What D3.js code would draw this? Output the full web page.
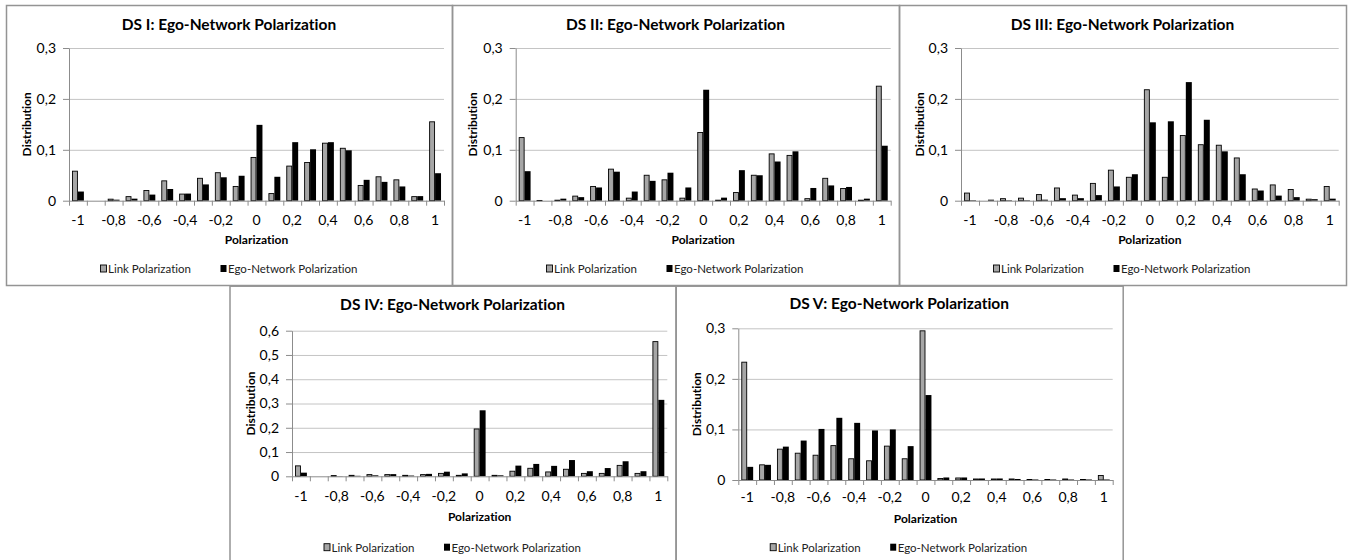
<!DOCTYPE html>
<html>
<head>
<meta charset="utf-8">
<script src="https://cdnjs.cloudflare.com/ajax/libs/d3/7.8.5/d3.min.js"></script>
<style>
  body { margin: 0; background: #fff; }
  svg { display: block; font-family: Lato, "Open Sans", sans-serif; font-variant-ligatures: none; }
  .gridline line { stroke: #c4c4c4; }
  .domain { stroke: #8c8c8c; }
</style>
</head>
<body>
<div id="chart"></div>
<script>
// polarization bins (x categories)
var categories = [-1, -0.9, -0.8, -0.7, -0.6, -0.5, -0.4, -0.3, -0.2, -0.1, 0,
                  0.1, 0.2, 0.3, 0.4, 0.5, 0.6, 0.7, 0.8, 0.9, 1];
var xTickLabels = ["-1", "", "-0,8", "", "-0,6", "", "-0,4", "", "-0,2", "", "0",
                   "", "0,2", "", "0,4", "", "0,6", "", "0,8", "", "1"];

var titles = ["DS I: Ego-Network Polarization", "DS II: Ego-Network Polarization",
              "DS III: Ego-Network Polarization", "DS IV: Ego-Network Polarization",
              "DS V: Ego-Network Polarization"];
var seriesNames = ["Link Polarization", "Ego-Network Polarization"];

var yTicksSmall = [0, 0.1, 0.2, 0.3];
var yTicksLarge = [0, 0.1, 0.2, 0.3, 0.4, 0.5, 0.6];

// values
var linkDS1 = [0.058, 0, 0.003, 0.008, 0.020, 0.039, 0.013, 0.044, 0.055, 0.028, 0.085,
               0.014, 0.068, 0.075, 0.113, 0.103, 0.030, 0.047, 0.041, 0.008, 0.155];
var egoDS1  = [0.018, 0, 0.002, 0.004, 0.012, 0.023, 0.014, 0.032, 0.046, 0.049, 0.149,
               0.047, 0.115, 0.101, 0.115, 0.099, 0.041, 0.037, 0.028, 0.009, 0.054];

var linkDS2 = [0.124, 0.0005, 0.001, 0.009, 0.028, 0.062, 0.005, 0.050, 0.041, 0.005, 0.134,
               0.001, 0.016, 0.050, 0.092, 0.089, 0.004, 0.044, 0.024, 0.001, 0.225];
var egoDS2  = [0.058, 0, 0.004, 0.007, 0.026, 0.057, 0.018, 0.039, 0.055, 0.026, 0.218,
               0.006, 0.060, 0.050, 0.077, 0.097, 0.025, 0.030, 0.027, 0.004, 0.108];

var linkDS3 = [0.015, 0, 0.004, 0.005, 0.012, 0.025, 0.011, 0.034, 0.060, 0.046, 0.218,
               0.046, 0.128, 0.110, 0.109, 0.084, 0.023, 0.031, 0.022, 0.003, 0.028];
var egoDS3  = [0.001, 0.002, 0.001, 0.001, 0.002, 0.005, 0.005, 0.011, 0.028, 0.052, 0.154,
               0.156, 0.233, 0.159, 0.097, 0.052, 0.020, 0.010, 0.007, 0.003, 0.004];

var linkDS4 = [0.043, 0, 0.003, 0.004, 0.007, 0.007, 0.004, 0.007, 0.012, 0.004, 0.195,
               0.004, 0.021, 0.033, 0.018, 0.029, 0.012, 0.012, 0.045, 0.012, 0.555];
var egoDS4  = [0.015, 0, 0.001, 0.002, 0.004, 0.009, 0.003, 0.010, 0.019, 0.012, 0.272,
               0.004, 0.044, 0.051, 0.043, 0.067, 0.021, 0.034, 0.062, 0.021, 0.315];

var linkDS5 = [0.233, 0.030, 0.061, 0.053, 0.049, 0.068, 0.042, 0.038, 0.067, 0.042, 0.295,
               0.003, 0.004, 0.002, 0.002, 0.002, 0.001, 0.001, 0.002, 0.001, 0.009];
var egoDS5  = [0.026, 0.030, 0.066, 0.078, 0.101, 0.123, 0.113, 0.098, 0.100, 0.067, 0.168,
               0.005, 0.005, 0.003, 0.003, 0.002, 0.001, 0.001, 0.001, 0.001, 0.001];

var linkSeries = [linkDS1, linkDS2, linkDS3, linkDS4, linkDS5];
var egoSeries = [egoDS1, egoDS2, egoDS3, egoDS4, egoDS5];
var yTickSets = [yTicksSmall, yTicksSmall, yTicksSmall, yTicksLarge, yTicksSmall];

// panel boxes and plot areas (pixels)
var panels = [
  { x: 6,     y: 5,     w: 446, h: 280, plotL: 63,   plotW: 375, plotT: 43,   plotB: 195.7, titleY: 25, tickY: 14, axisY: 239, legY: 268 },
  { x: 452,   y: 5,     w: 447, h: 280, plotL: 63.7, plotW: 375, plotT: 43,   plotB: 195.7, titleY: 25, tickY: 14, axisY: 239, legY: 268 },
  { x: 899,   y: 5,     w: 447, h: 280, plotL: 62,   plotW: 377.7, plotT: 43, plotB: 195.7, titleY: 25, tickY: 14, axisY: 239, legY: 268 },
  { x: 229.5, y: 285.7, w: 446, h: 290, plotL: 62.5, plotW: 375.3, plotT: 45, plotB: 190.6, titleY: 24, tickY: 15, axisY: 235, legY: 266 },
  { x: 675.7, y: 285.7, w: 447, h: 290, plotL: 62.6, plotW: 374.4, plotT: 42.6, plotB: 194.3, titleY: 23, tickY: 12, axisY: 237, legY: 266 }
];

var svgWidth = 1348;
var svgHeight = 560;

var svg = d3.select("#chart")
  .append("svg")
  .attr("width", svgWidth)
  .attr("height", svgHeight);

function fmtComma(v) {
  if (v === 0) return "0";
  return d3.format(".1f")(v).replace(".", ",");
}

panels.forEach(function(p, i) {
  var g = svg.append("g")
    .attr("transform", `translate(${p.x}, ${p.y})`);

  // panel frame
  g.append("rect")
    .attr("x", 0.5)
    .attr("y", 0.5)
    .attr("width", p.w)
    .attr("height", p.h)
    .attr("fill", "none")
    .attr("stroke", "#949494")
    .attr("stroke-width", 1.5);

  var plotH = p.plotB - p.plotT;
  var yTicks = yTickSets[i];
  var yMax = yTicks[yTicks.length - 1];

  var chartGroup = g.append("g")
    .attr("transform", `translate(${p.plotL}, ${p.plotT})`);

  var xBand = d3.scaleBand()
    .domain(categories)
    .range([0, p.plotW])
    .paddingInner(1 / 3)
    .paddingOuter(1 / 6);

  var xSub = d3.scaleBand()
    .domain([0, 1])
    .range([0, xBand.bandwidth()]);

  var yScale = d3.scaleLinear()
    .domain([0, yMax])
    .range([plotH, 0]);

  // gridlines
  chartGroup.append("g")
    .attr("class", "gridline")
    .call(d3.axisLeft(yScale).tickValues(yTicks.slice(1)).tickSize(-p.plotW).tickFormat(""))
    .call(function(s) { s.select(".domain").remove(); });

  // y axis
  var yAxis = chartGroup.append("g")
    .call(d3.axisLeft(yScale).tickValues(yTicks).tickSizeInner(6).tickSizeOuter(0)
      .tickPadding(7).tickFormat(fmtComma));
  yAxis.selectAll("line").attr("stroke", "#8c8c8c");
  yAxis.selectAll("text").attr("font-size", 14).attr("font-family", "Lato, sans-serif").attr("fill", "#000");

  // bars
  var rows = categories.map(function(c, k) {
    return { cat: c, vals: [linkSeries[i][k], egoSeries[i][k]] };
  });

  var groups = chartGroup.selectAll(".cat")
    .data(rows)
    .enter()
    .append("g")
    .attr("transform", d => `translate(${xBand(d.cat)}, 0)`);

  groups.selectAll("rect")
    .data(d => d.vals.map(function(v, s) { return { s: s, v: v }; }))
    .enter()
    .append("rect")
    .attr("x", d => xSub(d.s) + (d.s === 0 ? 0.5 : 0))
    .attr("y", d => yScale(d.v))
    .attr("width", d => xSub.bandwidth() - (d.s === 0 ? 1 : 0))
    .attr("height", d => plotH - yScale(d.v))
    .attr("fill", d => d.s === 0 ? "#a6a6a6" : "#000")
    .attr("stroke", d => d.s === 0 ? "#000" : "none")
    .attr("stroke-width", 0.9);

  // x axis: tick marks between categories
  var xEdge = d3.scaleLinear().domain([0, categories.length]).range([0, p.plotW]);
  var xAxisG = chartGroup.append("g")
    .attr("transform", `translate(0, ${plotH})`)
    .call(d3.axisBottom(xEdge).tickValues(d3.range(0, categories.length + 1))
      .tickSizeInner(5).tickSizeOuter(0).tickFormat(""));
  xAxisG.selectAll("line").attr("stroke", "#8c8c8c");

  // x labels
  var xLab = chartGroup.append("g")
    .attr("transform", `translate(0, ${plotH})`)
    .call(d3.axisBottom(xBand).tickSize(0).tickPadding(p.tickY)
      .tickValues(categories.filter((c, k) => xTickLabels[k] !== ""))
      .tickFormat(c => xTickLabels[categories.indexOf(c)]));
  xLab.select(".domain").remove();
  xLab.selectAll("text").attr("font-size", 14).attr("font-family", "Lato, sans-serif").attr("fill", "#000");

  // title
  g.append("text")
    .attr("x", p.w / 2)
    .attr("y", p.titleY)
    .attr("text-anchor", "middle")
    .attr("font-size", 15.5)
    .attr("font-weight", "bold")
    .text(titles[i]);

  // axis labels
  g.append("text")
    .attr("x", p.plotL + p.plotW / 2)
    .attr("y", p.axisY)
    .attr("text-anchor", "middle")
    .attr("font-size", 12)
    .attr("font-weight", "bold")
    .text("Polarization");

  g.append("text")
    .attr("transform", `translate(25, ${p.plotT + plotH / 2}) rotate(-90)`)
    .attr("text-anchor", "middle")
    .attr("font-size", 12)
    .attr("font-weight", "bold")
    .text("Distribution");

  // legend
  var legX = [94, 214];
  seriesNames.forEach(function(name, s) {
    g.append("rect")
      .attr("x", legX[s] + 0.5)
      .attr("y", p.legY - 8)
      .attr("width", 6)
      .attr("height", 7)
      .attr("fill", s === 0 ? "#a6a6a6" : "#000")
      .attr("stroke", "#000")
      .attr("stroke-width", s === 0 ? 0.9 : 0);
    g.append("text")
      .attr("x", legX[s] + 8)
      .attr("y", p.legY)
      .attr("font-size", 11.5)
      .attr("fill", "#222")
      .text(name);
  });
});
</script>
</body>
</html>
